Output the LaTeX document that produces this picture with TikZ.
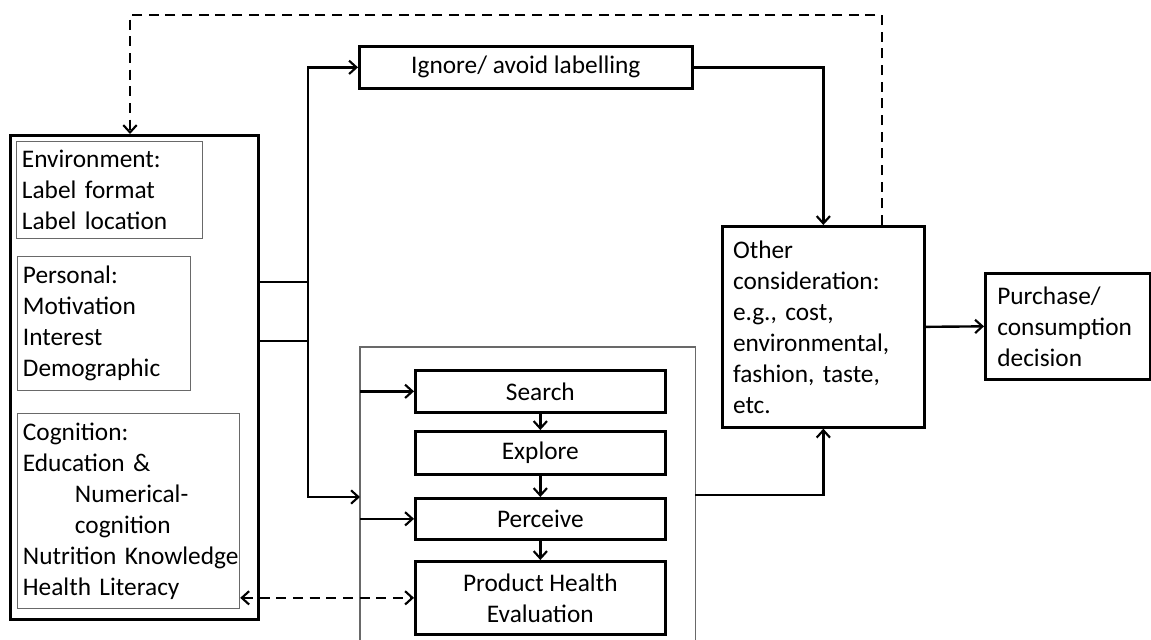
\documentclass[tikz,border=0pt]{standalone}
\usepackage{fontspec}
\setmainfont{Carlito}
\usepackage{xcolor}
\usepackage{tikz}
\usetikzlibrary{arrows.meta, positioning, calc}
\definecolor{boxline}{RGB}{0, 0, 0}
\definecolor{thinline}{RGB}{105, 105, 105}
\definecolor{darktext}{RGB}{0, 0, 0}

\begin{document}
\begin{tikzpicture}[x=0.75pt, y=-0.75pt,
    font=\fontsize{19}{23.25}\selectfont, text=darktext,
    >={Straight Barb[length=5.5pt, width=10pt, line width=1.6pt]},
    thickbox/.style={draw=boxline, line width=2pt, anchor=north west, inner sep=0pt},
    thinbox/.style={draw=thinline, line width=0.9pt, anchor=north west, align=left, inner xsep=4pt, inner ysep=1pt},
    stagebox/.style={draw=boxline, line width=2pt, anchor=north west, align=center, inner sep=0pt, minimum width=187.5pt},
    textbox/.style={draw=boxline, line width=2pt, anchor=north west, align=left, inner ysep=1pt},
    conn/.style={draw=boxline, line width=1.8pt},
    feedback/.style={draw=boxline, line width=1.8pt, dash pattern=on 7.5pt off 5pt}]
    \useasboundingbox (0,0) rectangle (1151,639);

    \node[thickbox, minimum width=186pt, minimum height=363pt] (lft) at (9,134) {};
    \node[thinbox, text width=131.5pt, minimum height=72.75pt] (env) at (16,141)
        {Environment:\\Label format\\Label location};
    \node[thinbox, text width=121.75pt, minimum height=100.5pt] (pers) at (17,256)
        {Personal:\\Motivation\\Interest\\Demographic};
    \node[thinbox, text width=158.5pt, minimum height=146.25pt] (cog) at (17,413)
        {Cognition:\\Education \&\\\hspace*{39pt}Numerical-\\\hspace*{39pt}cognition\\\mbox{Nutrition Knowledge}\\Health Literacy};

    \node[thickbox, align=center, minimum width=249.75pt, minimum height=31.5pt] (ign) at (358,45)
        {Ignore/ avoid labelling};

    \node[draw=none, anchor=north west, inner sep=0pt, minimum width=251.25pt, minimum height=219pt] (proc) at (360,347) {};
    \draw[draw=thinline, line width=0.9pt] (proc.south west) |- (proc.north east) -- (proc.south east);

    \node[stagebox, minimum height=31.5pt] (srch) at (414,369) {Search};
    \node[stagebox, minimum height=32.25pt] (expl) at (414,430) {Explore};
    \node[stagebox, minimum height=30.75pt] (perc) at (414,497) {Perceive};
    \node[stagebox, minimum height=54.75pt] (phe) at (414,560) {Product Health\\Evaluation};

    \node[textbox, inner xsep=8pt, text width=135.5pt, minimum height=150.75pt] (oth) at (721,225)
        {Other\\consideration:\\e.g., cost,\\environmental,\\fashion, taste,\\etc.};
    \node[textbox, inner xsep=9pt, text width=105.75pt, minimum height=79.5pt] (pur) at (984,272)
        {Purchase/\\consumption\\decision};

    \coordinate (ja) at (308,282);
    \coordinate (jb) at (308,341);
    \coordinate (jbot) at (308,497);
    \coordinate (pout) at (695,495);
    \coordinate (fbR) at (882,15);
    \coordinate (fbL) at (130,15);

    \draw[conn] (lft.east |- ja) -- (ja);
    \draw[conn] (lft.east |- jb) -- (jb);
    \draw[conn, ->] (jb) |- (ign.west);
    \draw[conn, ->] (ja) -- (jbot) -- (proc.west |- jbot);
    \draw[conn, ->] (proc.west |- srch.west) -- (srch.west);
    \draw[conn, ->] (proc.west |- perc.west) -- (perc.west);
    \draw[conn, ->] (srch) -- (expl);
    \draw[conn, ->] (expl) -- (perc);
    \draw[conn, ->] (perc) -- (phe);
    \draw[conn, ->] (ign.east) -| (oth.north);
    \draw[conn, ->] (pout) -| (oth.south);
    \draw[conn, ->] (oth.east) -- (pur.west);
    \draw[feedback, <->] (cog.east |- phe.west) -- (phe.west);
    \draw[feedback, ->] (oth.north -| fbR) -- (fbR) -- (fbL) -- (fbL |- lft.north);
\end{tikzpicture}
\end{document}
